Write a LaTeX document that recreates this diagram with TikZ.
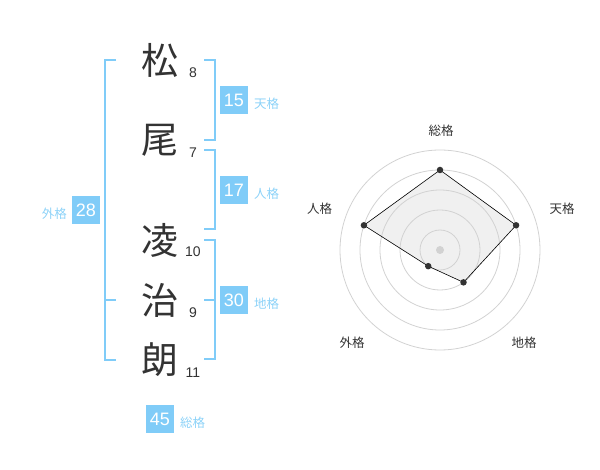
\documentclass[tikz,border=0pt]{standalone}
\usepackage{fontspec}
\setmainfont{Liberation Sans}
\newfontfamily\cjk{Noto Sans CJK JP}
\usepackage{tikz}

\definecolor{azul}{RGB}{128,204,248}
\definecolor{azulclaro}{RGB}{140,210,248}
\definecolor{cinza}{RGB}{51,51,51}
\definecolor{grade}{RGB}{210,210,210}
\definecolor{area}{RGB}{240,240,240}

\begin{document}
\begin{tikzpicture}[x=1pt, y=-1pt,
    kanji/.style={font=\cjk\fontsize{37}{37}\selectfont, text=cinza, inner sep=0pt},
    traco/.style={font=\fontsize{14}{14}\selectfont, text=cinza, inner sep=0pt},
    caixa/.style={fill=azul, text=white, minimum size=28pt, inner sep=0pt, font=\fontsize{18}{18}\selectfont},
    rotulo/.style={text=azulclaro, font=\cjk\fontsize{12.5}{12.5}\selectfont, inner sep=0pt},
    eixo/.style={text=cinza, font=\cjk\fontsize{12.5}{12.5}\selectfont, inner sep=0pt},
    chave/.style={azul, line width=1.8pt},
    ponto/.style={circle, fill=cinza, inner sep=0pt, minimum size=6.5pt}]
    \useasboundingbox (0,0) rectangle (600,470);

    % nome e tracos
    \node[kanji] (k1) at (160,60) {松};
    \node[kanji] (k2) at (160,140) {尾};
    \node[kanji] (k3) at (160,240) {凌};
    \node[kanji] (k4) at (160,300) {治};
    \node[kanji] (k5) at (160,360) {朗};
    \node[traco] (n1) at (193,73) {8};
    \node[traco] (n2) at (193,153) {7};
    \node[traco] (n3) at (193,252) {10};
    \node[traco] (n4) at (193,313) {9};
    \node[traco] (n5) at (193,373) {11};

    % chaves
    \draw[chave] (116,60) -- (105,60) -- (105,360) -- (116,360);
    \draw[chave] (105,300) -- (116,300);
    \draw[chave] (204,60) -- (215,60) -- (215,140) -- (204,140);
    \draw[chave] (204,150) -- (215,150) -- (215,229) -- (204,229);
    \draw[chave] (204,240) -- (215,240) -- (215,359) -- (204,359);
    \draw[chave] (204,300) -- (215,300);

    \node[caixa] (ten) at (234,100) {15};
    \node[rotulo, right] (tenl) at (254,103.5) {天格};
    \node[caixa] (jin) at (234,190) {17};
    \node[rotulo, right] (jinl) at (254,193.5) {人格};
    \node[caixa] (chi) at (234,300) {30};
    \node[rotulo, right] (chil) at (254,303.5) {地格};
    \node[caixa] (gai) at (86,210) {28};
    \node[rotulo, left] (gail) at (67,213.5) {外格};
    \node[caixa] (sou) at (160,419) {45};
    \node[rotulo, right] (soul) at (180,422.5) {総格};

    % radar
    \begin{scope}[shift={(440,250)}]
        \coordinate (ps) at (-90:80);
        \coordinate (pt) at (-18:80);
        \coordinate (pc) at (54:40);
        \coordinate (pg) at (126:20);
        \coordinate (pj) at (198:80);
        \fill[area] (ps) -- (pt) -- (pc) -- (pg) -- (pj) -- cycle;
        \foreach \r in {20,40,60,80,100}
            \draw[grade, line width=0.8pt] (0,0) circle (\r pt);
        \draw[line width=0.6pt] (ps) -- (pt) -- (pc) -- (pg) -- (pj) -- cycle;
        \foreach \p in {ps,pt,pc,pg,pj}
            \node[ponto] at (\p) {};
        \node[circle, fill=grade, inner sep=0pt, minimum size=8pt] (centro) at (0,0) {};
    \end{scope}
    \node[eixo] (es) at (441,131) {総格};
    \node[eixo] (et) at (562,209) {天格};
    \node[eixo] (ec) at (524,342.5) {地格};
    \node[eixo] (eg) at (352,342.5) {外格};
    \node[eixo] (ej) at (319.5,209) {人格};

\end{tikzpicture}
\end{document}
